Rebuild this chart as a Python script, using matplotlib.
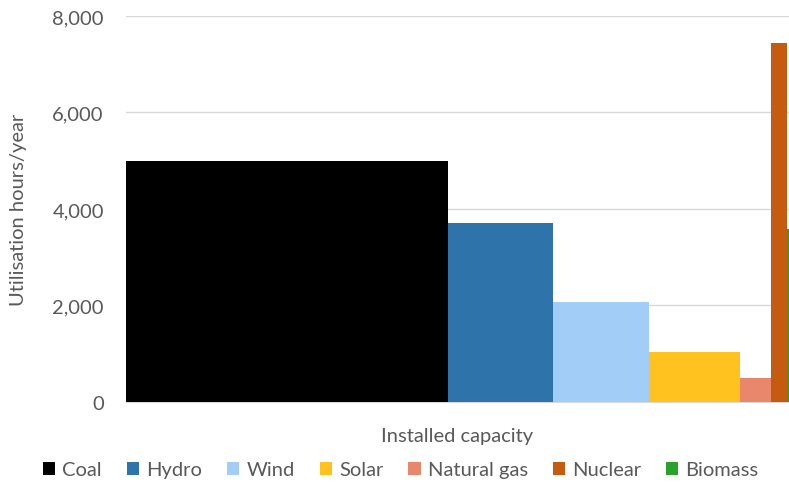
import matplotlib.pyplot as plt
from matplotlib.patches import Patch

plt.rcParams['font.family'] = ['Lato', 'DejaVu Sans']

# installed capacity (GW) sets the bar width, utilisation sets the height
sources = ['Coal', 'Hydro', 'Wind', 'Solar', 'Natural gas', 'Nuclear', 'Biomass']
capacity = [1073, 350, 320, 303, 103, 53, 8]
hours = [5000, 3710, 2070, 1036, 490, 7440, 3585]
colors = ['#000000', '#2E74AB', '#A2CDF7', '#FFC21F', '#E9876C', '#C55A11', '#2CA02C']

text_color = '#595959'
fs = 14.5

fig = plt.figure(figsize=(7.89, 4.85), dpi=100)
ax = fig.add_axes([0.1597, 0.1691, 0.8403, 0.7959])

left = 0
for cap, h, c in zip(capacity, hours, colors):
    ax.bar(left, h, width=cap, align='edge', color=c, linewidth=0, zorder=3)
    left += cap

ax.set_xlim(0, sum(capacity))
ax.set_ylim(0, 8000)
ax.set_yticks(range(0, 8001, 2000))
ax.set_yticklabels(['{:,}'.format(v) for v in range(0, 8001, 2000)])
ax.set_xticks([])
ax.grid(axis='y', color='#d9d9d9', linewidth=1, zorder=0)

for s in ['top', 'right', 'left']:
    ax.spines[s].set_visible(False)
ax.spines['bottom'].set_color('#d9d9d9')
ax.tick_params(axis='y', length=0, pad=16, labelsize=fs, labelcolor=text_color)

ax.set_ylabel('Utilisation hours/year', fontsize=fs, color=text_color, labelpad=18)
ax.set_xlabel('Installed capacity', fontsize=fs, color=text_color, labelpad=18)

handles = [Patch(facecolor=c, label=s) for s, c in zip(sources, colors)]
fig.legend(handles=handles, loc='center', bbox_to_anchor=(0.508, 0.029), ncol=7,
           frameon=False, fontsize=fs, labelcolor=text_color,
           handlelength=0.6, handleheight=0.6, handletextpad=0.35, columnspacing=1.25)

fig.savefig('out.png', dpi=100)
